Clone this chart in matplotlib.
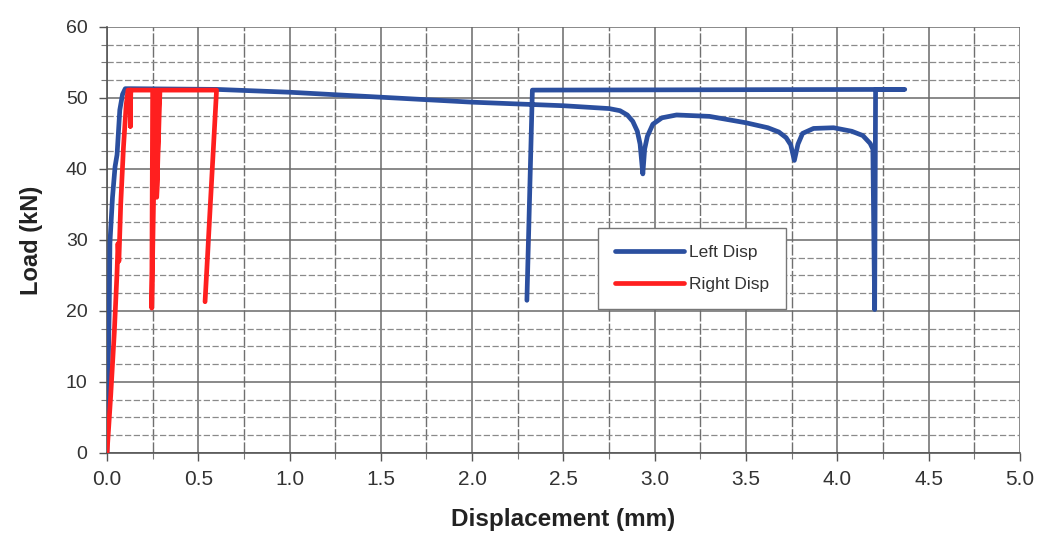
import matplotlib
matplotlib.use("Agg")
import matplotlib.pyplot as plt
from matplotlib.ticker import MultipleLocator

# Load-displacement records (mm, kN)
left_disp = [0.0, 0.005, 0.012, 0.016, 0.03, 0.044, 0.055, 0.07, 0.085, 0.1, 0.13,
             0.6, 0.8, 1.0, 1.5, 2.0, 2.5, 2.75, 2.81, 2.85, 2.88, 2.905, 2.92, 2.935,
             2.945, 2.96, 2.99, 3.04, 3.12, 3.3, 3.5, 3.62, 3.68, 3.72, 3.745, 3.765,
             3.785, 3.81, 3.87, 3.98, 4.08, 4.14, 4.18, 4.195, 4.205, 4.21,
             4.37, 2.33, 2.30]
left_load = [0.0, 10.0, 20.0, 29.6, 36.0, 40.3, 42.0, 48.3, 50.5, 51.3, 51.3,
             51.2, 51.0, 50.8, 50.1, 49.4, 48.9, 48.5, 48.2, 47.6, 46.7, 45.3, 43.5, 39.3,
             42.8, 44.6, 46.3, 47.2, 47.6, 47.4, 46.5, 45.8, 45.2, 44.4, 43.4, 41.2,
             43.5, 45.0, 45.7, 45.8, 45.3, 44.7, 43.6, 42.8, 20.2, 51.2,
             51.2, 51.1, 21.5]

right_disp = [0.0, 0.02, 0.04, 0.055, 0.06, 0.065, 0.075, 0.09, 0.105, 0.115,
              0.13, 0.128, 0.13, 0.25, 0.245, 0.265, 0.285, 0.272, 0.29, 0.6,
              0.537]
right_load = [0.0, 8.0, 17.0, 25.5, 29.5, 27.0, 35.0, 43.0, 49.0, 51.1,
              51.1, 46.0, 51.1, 51.1, 20.4, 51.1, 51.1, 36.0, 51.1, 51.1,
              21.3]

x_ticks = [0.0, 0.5, 1.0, 1.5, 2.0, 2.5, 3.0, 3.5, 4.0, 4.5, 5.0]
y_ticks = [0, 10, 20, 30, 40, 50, 60]

plt.rcParams["font.family"] = ["Liberation Sans", "DejaVu Sans"]

fig = plt.figure(figsize=(10.42, 5.38), dpi=100)
ax = fig.add_axes([0.1027, 0.158, 0.876, 0.792])

ax.plot(left_disp, left_load, color="#2b4f9f", lw=3.4, solid_capstyle="round",
        solid_joinstyle="round", label="Left Disp", zorder=3)
ax.plot(right_disp, right_load, color="#ff1f1f", lw=3.4, solid_capstyle="round",
        solid_joinstyle="round", label="Right Disp", zorder=4)

ax.set_xlim(0, 5.0)
ax.set_ylim(0, 60)
ax.set_xticks(x_ticks)
ax.set_xticklabels([f"{v:.1f}" for v in x_ticks])
ax.set_yticks(y_ticks)
ax.xaxis.set_minor_locator(MultipleLocator(0.25))
ax.yaxis.set_minor_locator(MultipleLocator(2.5))

ax.grid(which="major", color="#6a6a6a", lw=1.1, ls="-", zorder=0)
ax.grid(which="minor", axis="x", color="#6f6f6f", lw=1.0, ls=(0, (8, 1.5)), zorder=0)
ax.grid(which="minor", axis="y", color="#8a8a8a", lw=0.9, ls=(0, (5, 2)), zorder=0)
ax.set_axisbelow(True)

for side in ("top", "right"):
    ax.spines[side].set_visible(False)
for side in ("left", "bottom"):
    ax.spines[side].set_color("#555555")
    ax.spines[side].set_linewidth(1.2)

ax.tick_params(which="major", length=6, width=1, color="#555555",
               labelcolor="#333333")
ax.tick_params(axis="y", which="major", pad=8, labelsize=14)
ax.tick_params(axis="x", which="major", pad=6, labelsize=15)
ax.tick_params(which="minor", length=4, width=0.8, color="#777777")

ax.set_xlabel("Displacement (mm)", fontsize=17.5, fontweight="bold",
              color="#222222", labelpad=14)
ax.set_ylabel("Load (kN)", fontsize=17, fontweight="bold",
              color="#222222", labelpad=16)

leg = ax.legend(loc="upper left", bbox_to_anchor=(0.538, 0.528), fontsize=12.5,
                frameon=True, fancybox=False, handlelength=4.0,
                handletextpad=0.3, labelspacing=1.0, borderpad=0.95,
                borderaxespad=0)
leg.set_zorder(2)
leg.get_frame().set_edgecolor("#777777")
leg.get_frame().set_linewidth(1.0)
leg.get_frame().set_facecolor("white")
leg.get_frame().set_alpha(1.0)
for txt in leg.get_texts():
    txt.set_color("#333333")

fig.savefig("out.png", dpi=100)
